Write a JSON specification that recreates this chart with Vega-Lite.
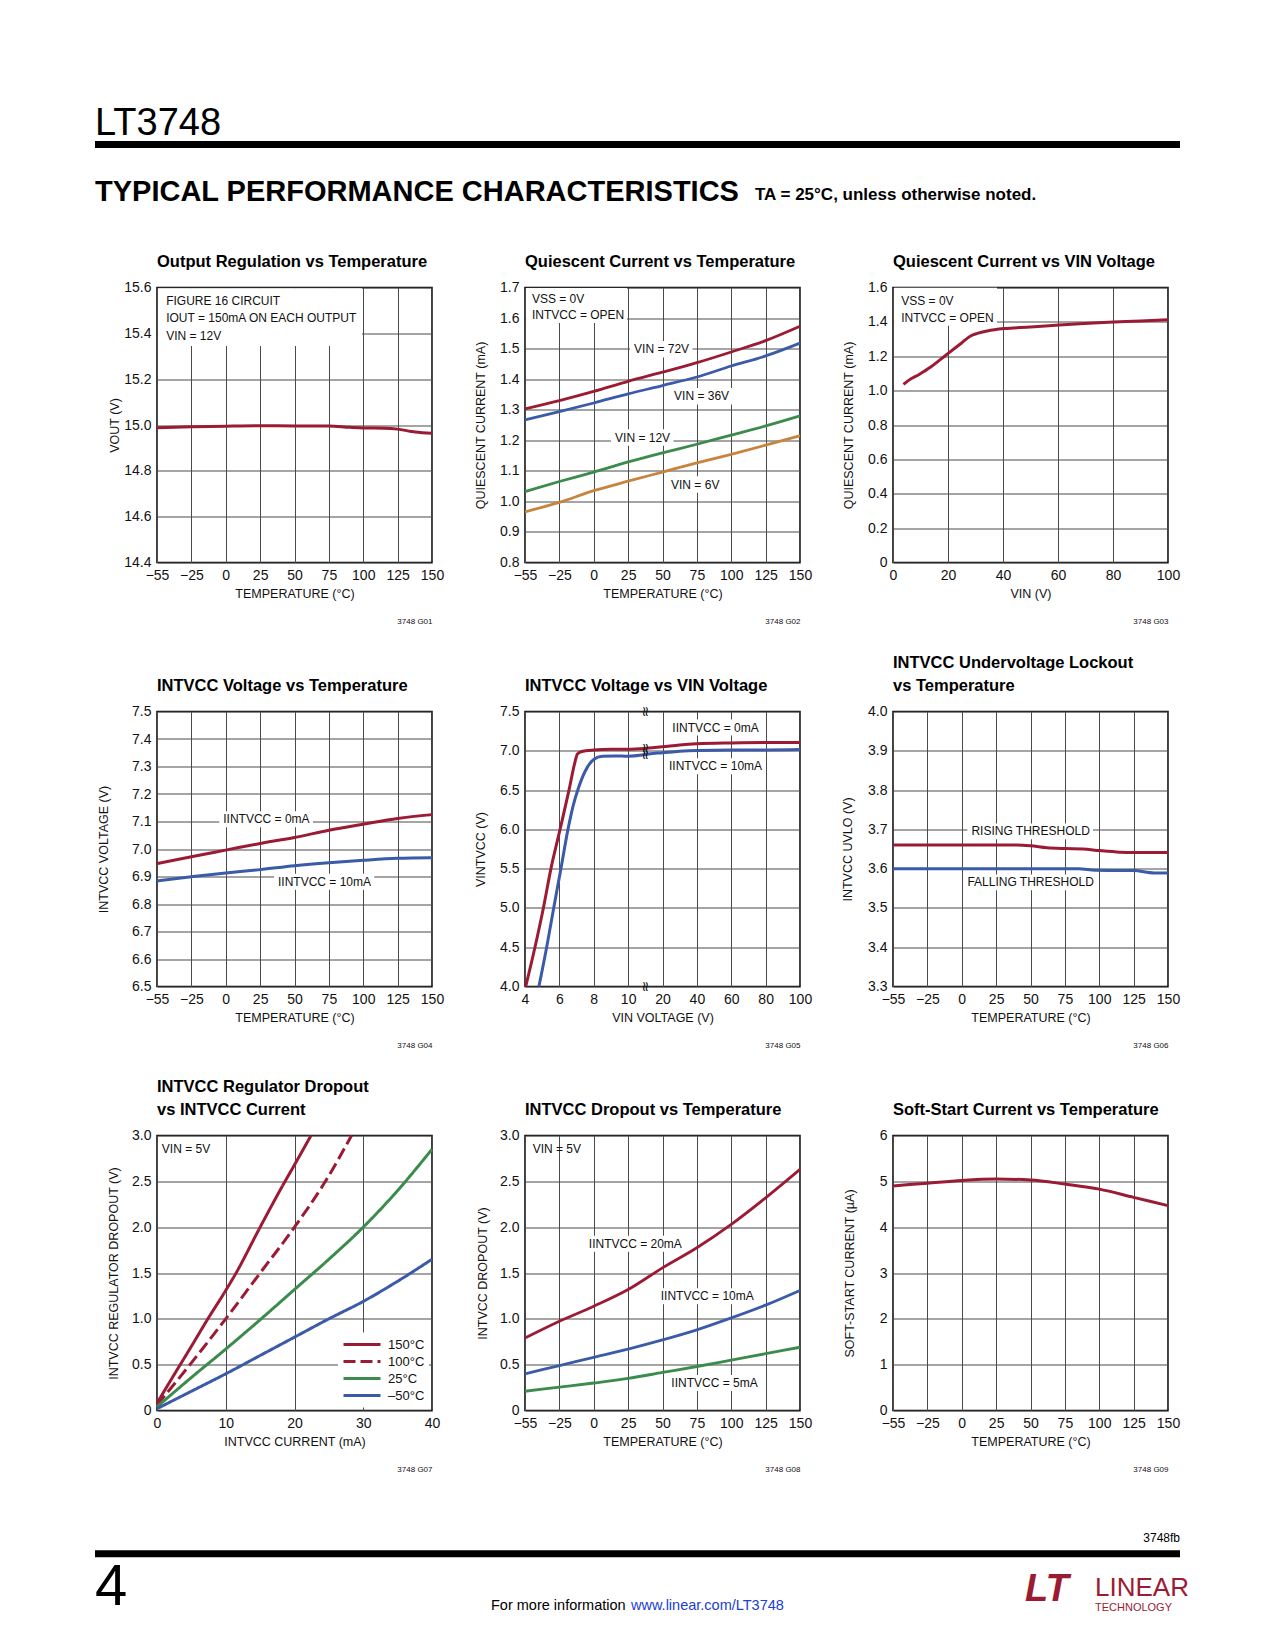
{
"$schema": "https://vega.github.io/schema/vega-lite/v6.json",
"background": "white",
"padding": {"left": 95, "top": 104, "right": 10, "bottom": 10},
"config": {
  "font": "Liberation Sans, Arial, sans-serif",
  "view": {"stroke": "black", "strokeWidth": 1.5},
  "axis": {"domain": false, "ticks": false, "gridColor": "#4a4a4a", "gridWidth": 1, "gridOpacity": 1, "labelFont": "Liberation Sans, Arial, sans-serif", "labelFontSize": 14, "labelColor": "#111", "labelFlush": false, "labelOverlap": false, "labelBound": false, "titleFont": "Liberation Sans, Arial, sans-serif", "titleFontSize": 12.5, "titleFontWeight": "normal", "titleColor": "#111"},
  "axisX": {"labelPadding": 6, "titlePadding": 5},
  "axisY": {"labelPadding": 6},
  "title": {"font": "Liberation Sans, Arial, sans-serif", "fontSize": 16.5, "fontWeight": "bold", "anchor": "start", "frame": "group", "offset": 9.8, "color": "black", "lineHeight": 23.5},
  "text": {"font": "Liberation Sans, Arial, sans-serif", "fontSize": 12, "color": "#111"}
},
"datasets": {
  "d1": [{"t":-55,"v":14.988},{"t":-25,"v":14.992},{"t":0,"v":14.995},{"t":25,"v":14.997},{"t":50,"v":14.996},{"t":75,"v":14.996},{"t":90,"v":14.99},{"t":100,"v":14.987},{"t":115,"v":14.986},{"t":125,"v":14.982},{"t":135,"v":14.972},{"t":143,"v":14.966},{"t":150,"v":14.964}],
  "b1": [{"t":-54,"t2":99,"v":15.597,"v2":15.345}],
  "a1": [{"t":-47,"v":15.543,"label":"FIGURE 16 CIRCUIT"},{"t":-47,"v":15.465,"label":"IOUT = 150mA ON EACH OUTPUT"},{"t":-47,"v":15.39,"label":"VIN = 12V"}],
  "d2": [
    {"s":"72V","t":-55,"v":1.303},{"s":"72V","t":-25,"v":1.330},{"s":"72V","t":0,"v":1.360},{"s":"72V","t":25,"v":1.393},{"s":"72V","t":50,"v":1.423},{"s":"72V","t":75,"v":1.454},{"s":"72V","t":100,"v":1.489},{"s":"72V","t":125,"v":1.526},{"s":"72V","t":150,"v":1.573},
    {"s":"36V","t":-55,"v":1.267},{"s":"36V","t":-25,"v":1.294},{"s":"36V","t":0,"v":1.322},{"s":"36V","t":25,"v":1.352},{"s":"36V","t":50,"v":1.379},{"s":"36V","t":75,"v":1.407},{"s":"36V","t":100,"v":1.443},{"s":"36V","t":125,"v":1.476},{"s":"36V","t":150,"v":1.518},
    {"s":"12V","t":-55,"v":1.032},{"s":"12V","t":-25,"v":1.065},{"s":"12V","t":0,"v":1.096},{"s":"12V","t":25,"v":1.129},{"s":"12V","t":50,"v":1.159},{"s":"12V","t":75,"v":1.187},{"s":"12V","t":100,"v":1.217},{"s":"12V","t":125,"v":1.247},{"s":"12V","t":150,"v":1.280},
    {"s":"6V","t":-55,"v":0.966},{"s":"6V","t":-25,"v":0.997},{"s":"6V","t":0,"v":1.035},{"s":"6V","t":25,"v":1.066},{"s":"6V","t":50,"v":1.096},{"s":"6V","t":75,"v":1.126},{"s":"6V","t":100,"v":1.154},{"s":"6V","t":125,"v":1.184},{"s":"6V","t":150,"v":1.215}
  ],
  "b2": [{"t":-54,"t2":24.2,"v":1.698,"v2":1.584},{"t":26.4,"t2":71.8,"v":1.525,"v2":1.471},{"t":55.5,"t2":100.9,"v":1.371,"v2":1.317},{"t":12.5,"t2":58,"v":1.236,"v2":1.182},{"t":53.3,"t2":91,"v":1.082,"v2":1.028}],
  "a2": [{"t":-49,"v":1.664,"label":"VSS = 0V"},{"t":-49,"v":1.611,"label":"INTVCC = OPEN"},{"t":29.3,"v":1.498,"label":"VIN = 72V"},{"t":58.4,"v":1.344,"label":"VIN = 36V"},{"t":15.5,"v":1.209,"label":"VIN = 12V"},{"t":56.2,"v":1.055,"label":"VIN = 6V"}],
  "d3": [{"t":3.8,"v":1.036},{"t":5.8,"v":1.061},{"t":9.5,"v":1.094},{"t":13.7,"v":1.137},{"t":17.3,"v":1.182},{"t":20.4,"v":1.221},{"t":24.6,"v":1.273},{"t":28.2,"v":1.318},{"t":30.7,"v":1.333},{"t":34.3,"v":1.347},{"t":40.4,"v":1.361},{"t":50,"v":1.370},{"t":60.4,"v":1.382},{"t":69.5,"v":1.391},{"t":80.4,"v":1.399},{"t":90,"v":1.405},{"t":100,"v":1.413}],
  "b3": [{"t":0.4,"t2":37.8,"v":1.598,"v2":1.378}],
  "a3": [{"t":3,"v":1.522,"label":"VSS = 0V"},{"t":3,"v":1.425,"label":"INTVCC = OPEN"}],
  "d4": [
    {"s":"0mA","t":-55,"v":6.947},{"s":"0mA","t":-25,"v":6.972},{"s":"0mA","t":0,"v":6.996},{"s":"0mA","t":25,"v":7.020},{"s":"0mA","t":50,"v":7.042},{"s":"0mA","t":75,"v":7.068},{"s":"0mA","t":100,"v":7.090},{"s":"0mA","t":125,"v":7.111},{"s":"0mA","t":150,"v":7.125},
    {"s":"10mA","t":-55,"v":6.884},{"s":"10mA","t":-25,"v":6.899},{"s":"10mA","t":0,"v":6.913},{"s":"10mA","t":25,"v":6.925},{"s":"10mA","t":50,"v":6.939},{"s":"10mA","t":75,"v":6.950},{"s":"10mA","t":100,"v":6.959},{"s":"10mA","t":125,"v":6.966},{"s":"10mA","t":150,"v":6.968}
  ],
  "b4": [{"t":-4.7,"t2":63.4,"v":7.137,"v2":7.079},{"t":35.1,"t2":108,"v":6.91,"v2":6.852}],
  "a4": [{"t":-1.8,"v":7.108,"label":"IINTVCC = 0mA"},{"t":38,"v":6.881,"label":"IINTVCC = 10mA"}],
  "d5": [
    {"s":"0mA","t":4.04,"v":4.0},{"s":"0mA","t":4.58,"v":4.5},{"s":"0mA","t":5.07,"v":5.0},{"s":"0mA","t":5.51,"v":5.5},{"s":"0mA","t":6.04,"v":6.0},{"s":"0mA","t":6.56,"v":6.5},{"s":"0mA","t":6.9,"v":6.85},{"s":"0mA","t":7.05,"v":6.96},{"s":"0mA","t":7.3,"v":6.99},{"s":"0mA","t":8,"v":7.01},{"s":"0mA","t":9,"v":7.02},{"s":"0mA","t":10,"v":7.02},{"s":"0mA","t":15,"v":7.03},{"s":"0mA","t":20,"v":7.05},{"s":"0mA","t":30,"v":7.075},{"s":"0mA","t":40,"v":7.09},{"s":"0mA","t":60,"v":7.1},{"s":"0mA","t":80,"v":7.105},{"s":"0mA","t":100,"v":7.105},
    {"s":"10mA","t":4.81,"v":4.0},{"s":"10mA","t":5.26,"v":4.5},{"s":"10mA","t":5.67,"v":5.0},{"s":"10mA","t":6.09,"v":5.5},{"s":"10mA","t":6.5,"v":6.0},{"s":"10mA","t":6.8,"v":6.3},{"s":"10mA","t":7.1,"v":6.52},{"s":"10mA","t":7.5,"v":6.74},{"s":"10mA","t":8,"v":6.89},{"s":"10mA","t":8.5,"v":6.93},{"s":"10mA","t":9.2,"v":6.935},{"s":"10mA","t":10,"v":6.93},{"s":"10mA","t":14,"v":6.945},{"s":"10mA","t":16,"v":6.96},{"s":"10mA","t":20,"v":6.975},{"s":"10mA","t":30,"v":6.995},{"s":"10mA","t":40,"v":7.005},{"s":"10mA","t":60,"v":7.01},{"s":"10mA","t":80,"v":7.01},{"s":"10mA","t":100,"v":7.015}
  ],
  "b5": [{"t":23.4,"t2":77.9,"v":7.398,"v2":7.194},{"t":21.5,"t2":79.8,"v":6.905,"v2":6.7}],
  "a5": [{"t":25.7,"v":7.296,"label":"IINTVCC = 0mA"},{"t":23.8,"v":6.803,"label":"IINTVCC = 10mA"}],
  "k5": [{"t":15,"v":7.5},{"t":15,"v":4.0},{"t":15,"v":7.03},{"t":15,"v":6.95}],
  "d6": [
    {"s":"rise","t":-55,"v":3.66},{"s":"rise","t":0,"v":3.66},{"s":"rise","t":25,"v":3.66},{"s":"rise","t":40,"v":3.66},{"s":"rise","t":50,"v":3.658},{"s":"rise","t":62,"v":3.653},{"s":"rise","t":75,"v":3.651},{"s":"rise","t":88,"v":3.65},{"s":"rise","t":100,"v":3.646},{"s":"rise","t":115,"v":3.642},{"s":"rise","t":125,"v":3.641},{"s":"rise","t":150,"v":3.641},
    {"s":"fall","t":-55,"v":3.6},{"s":"fall","t":25,"v":3.6},{"s":"fall","t":75,"v":3.6},{"s":"fall","t":85,"v":3.6},{"s":"fall","t":97,"v":3.596},{"s":"fall","t":125,"v":3.595},{"s":"fall","t":140,"v":3.589},{"s":"fall","t":150,"v":3.589}
  ],
  "b6": [{"t":4.1,"t2":95.5,"v":3.715,"v2":3.675},{"t":1.2,"t2":98.7,"v":3.585,"v2":3.545}],
  "a6": [{"t":7,"v":3.695,"label":"RISING THRESHOLD"},{"t":4.1,"v":3.565,"label":"FALLING THRESHOLD"}],
  "d7": [
    {"s":"150°C","t":0,"v":0.08},{"s":"150°C","t":2,"v":0.33},{"s":"150°C","t":5,"v":0.7},{"s":"150°C","t":7.4,"v":1.0},{"s":"150°C","t":10,"v":1.31},{"s":"150°C","t":11.5,"v":1.5},{"s":"150°C","t":15,"v":2.0},{"s":"150°C","t":18.4,"v":2.47},{"s":"150°C","t":20,"v":2.68},{"s":"150°C","t":22.4,"v":3.0},
    {"s":"100°C","t":0,"v":0.06},{"s":"100°C","t":5,"v":0.52},{"s":"100°C","t":10,"v":1.0},{"s":"100°C","t":15,"v":1.5},{"s":"100°C","t":20,"v":2.0},{"s":"100°C","t":24.5,"v":2.5},{"s":"100°C","t":28.3,"v":3.0},
    {"s":"25°C","t":0,"v":0.04},{"s":"25°C","t":5,"v":0.36},{"s":"25°C","t":10,"v":0.67},{"s":"25°C","t":15,"v":0.99},{"s":"25°C","t":20,"v":1.32},{"s":"25°C","t":25,"v":1.65},{"s":"25°C","t":30,"v":2.0},{"s":"25°C","t":35,"v":2.4},{"s":"25°C","t":40,"v":2.85},
    {"s":"–50°C","t":0,"v":0.02},{"s":"–50°C","t":5,"v":0.21},{"s":"–50°C","t":10,"v":0.4},{"s":"–50°C","t":15,"v":0.6},{"s":"–50°C","t":20,"v":0.8},{"s":"–50°C","t":25,"v":1.0},{"s":"–50°C","t":30,"v":1.19},{"s":"–50°C","t":35,"v":1.41},{"s":"–50°C","t":40,"v":1.65}
  ],
  "a7": [{"t":0.7,"v":2.85,"label":"VIN = 5V"}],
  "d8": [
    {"s":"20mA","t":-55,"v":0.79},{"s":"20mA","t":-25,"v":0.973},{"s":"20mA","t":0,"v":1.137},{"s":"20mA","t":25,"v":1.319},{"s":"20mA","t":50,"v":1.556},{"s":"20mA","t":75,"v":1.775},{"s":"20mA","t":100,"v":2.03},{"s":"20mA","t":125,"v":2.32},{"s":"20mA","t":150,"v":2.63},
    {"s":"10mA","t":-55,"v":0.4},{"s":"10mA","t":-25,"v":0.49},{"s":"10mA","t":0,"v":0.58},{"s":"10mA","t":25,"v":0.67},{"s":"10mA","t":50,"v":0.77},{"s":"10mA","t":75,"v":0.88},{"s":"10mA","t":100,"v":1.01},{"s":"10mA","t":125,"v":1.15},{"s":"10mA","t":150,"v":1.31},
    {"s":"5mA","t":-55,"v":0.21},{"s":"5mA","t":-25,"v":0.255},{"s":"5mA","t":0,"v":0.3},{"s":"5mA","t":25,"v":0.35},{"s":"5mA","t":50,"v":0.415},{"s":"5mA","t":75,"v":0.48},{"s":"5mA","t":100,"v":0.55},{"s":"5mA","t":125,"v":0.62},{"s":"5mA","t":150,"v":0.69}
  ],
  "b8": [{"t":-6.5,"t2":66.4,"v":1.907,"v2":1.733},{"t":45.8,"t2":118.7,"v":1.333,"v2":1.159},{"t":53.5,"t2":121.6,"v":0.387,"v2":0.213}],
  "a8": [{"t":-48.3,"v":2.85,"label":"VIN = 5V"},{"t":-3.6,"v":1.82,"label":"IINTVCC = 20mA"},{"t":48.7,"v":1.246,"label":"IINTVCC = 10mA"},{"t":56.4,"v":0.3,"label":"IINTVCC = 5mA"}],
  "d9": [{"t":-55,"v":4.9},{"t":-25,"v":4.96},{"t":0,"v":5.02},{"t":25,"v":5.05},{"t":50,"v":5.03},{"t":75,"v":4.94},{"t":100,"v":4.83},{"t":125,"v":4.65},{"t":150,"v":4.47}],
  "empty": [{}],
  "none": []
},
"spacing": 33.5,
"vconcat": [
 {
  "spacing": 26.5,
  "vconcat": [
   {"width": 1085, "height": 7, "view": {"fill": "black", "stroke": null}, "data": {"name": "empty"}, "mark": {"type": "text", "text": ""},
    "title": {"text": "LT3748", "anchor": "start", "frame": "group", "fontSize": 38, "fontWeight": "normal", "offset": -4}},
   {"hconcat": [
     {"width": 660, "height": 1, "view": {"stroke": null}, "data": {"name": "empty"}, "mark": {"type": "text", "text": ""},
      "title": {"text": "TYPICAL PERFORMANCE CHARACTERISTICS", "anchor": "start", "frame": "group", "fontSize": 29, "fontWeight": "bold", "offset": 0}},
     {"width": 425, "height": 1, "view": {"stroke": null}, "data": {"name": "empty"}, "mark": {"type": "text", "text": ""},
      "title": {"text": "TA = 25°C, unless otherwise noted.", "anchor": "start", "frame": "group", "fontSize": 17, "fontWeight": "bold", "offset": 3.5}}
    ], "spacing": 0, "bounds": "flush"}
  ]
 },
 {
  "spacing": 56.7,
  "vconcat": [
   {"spacing": 0, "hconcat": [
    {"width": 1, "height": 1, "view": {"stroke": null}, "data": {"name": "none"}, "mark": "point"},
    {
    "columns": 3, "bounds": "flush", "spacing": {"row": 149, "column": 93},
    "resolve": {"scale": {"color": "independent", "strokeDash": "independent"}, "legend": {"color": "independent", "strokeDash": "independent"}},
    "concat": [
     {"width": 275, "height": 275, "title": {"text": "Output Regulation vs Temperature"}, "resolve": {"axis": {"x": "independent"}},
      "layer": [
       {"data": {"name": "b1"}, "mark": {"type": "rect", "fill": "white"}, "encoding": {"x": {"field": "t", "type": "quantitative", "axis": null}, "x2": {"field": "t2"}, "y": {"field": "v", "type": "quantitative"}, "y2": {"field": "v2"}}},
       {"data": {"name": "d1"}, "mark": {"type": "line", "color": "#9B1B35", "strokeWidth": 3, "interpolate": "monotone"},
        "encoding": {"x": {"field": "t", "type": "quantitative", "scale": {"domain": [-55, -25, 150], "range": [0, 34.375, 275], "nice": false, "zero": false}, "axis": {"grid": true, "tickCount": 20, "values": [-55, -25, 0, 25, 50, 75, 100, 125, 150], "format": "d", "title": "TEMPERATURE (°C)"}},
                     "y": {"field": "v", "type": "quantitative", "scale": {"domain": [14.4, 15.6], "nice": false, "zero": false}, "axis": {"grid": true, "tickCount": 20, "values": [14.4, 14.6, 14.8, 15.0, 15.2, 15.4, 15.6], "format": ".1f", "title": "VOUT (V)", "titlePadding": 2.5}}}},
       {"data": {"name": "a1"}, "mark": {"type": "text", "align": "left", "baseline": "middle"}, "encoding": {"x": {"field": "t", "type": "quantitative", "axis": null}, "y": {"field": "v", "type": "quantitative"}, "text": {"field": "label"}}},
       {"data": {"name": "d1"}, "mark": {"type": "point", "opacity": 0}, "encoding": {"x": {"field": "t", "type": "quantitative", "axis": {"orient": "bottom", "title": "3748 G01", "labels": false, "grid": false, "titleAnchor": "end", "titleFontSize": 8, "titlePadding": 55}}}}
      ]},
     {"width": 275, "height": 275, "title": {"text": "Quiescent Current vs Temperature"}, "resolve": {"axis": {"x": "independent"}},
      "layer": [
       {"data": {"name": "b2"}, "mark": {"type": "rect", "fill": "white"}, "encoding": {"x": {"field": "t", "type": "quantitative", "axis": null}, "x2": {"field": "t2"}, "y": {"field": "v", "type": "quantitative"}, "y2": {"field": "v2"}}},
       {"data": {"name": "d2"}, "mark": {"type": "line", "strokeWidth": 2.8, "interpolate": "monotone"},
        "encoding": {"x": {"field": "t", "type": "quantitative", "scale": {"domain": [-55, -25, 150], "range": [0, 34.375, 275], "nice": false, "zero": false}, "axis": {"grid": true, "tickCount": 20, "values": [-55, -25, 0, 25, 50, 75, 100, 125, 150], "format": "d", "title": "TEMPERATURE (°C)"}},
                     "y": {"field": "v", "type": "quantitative", "scale": {"domain": [0.8, 1.7], "nice": false, "zero": false}, "axis": {"grid": true, "tickCount": 20, "values": [0.8, 0.9, 1.0, 1.1, 1.2, 1.3, 1.4, 1.5, 1.6, 1.7], "format": ".1f", "title": "QUIESCENT CURRENT (mA)", "titlePadding": 12.25}},
                     "color": {"field": "s", "type": "nominal", "scale": {"domain": ["72V", "36V", "12V", "6V"], "range": ["#9B1B35", "#3B5BA9", "#3B8B4D", "#C8843E"]}, "legend": null}}},
       {"data": {"name": "a2"}, "mark": {"type": "text", "align": "left", "baseline": "middle"}, "encoding": {"x": {"field": "t", "type": "quantitative", "axis": null}, "y": {"field": "v", "type": "quantitative"}, "text": {"field": "label"}}},
       {"data": {"name": "d2"}, "mark": {"type": "point", "opacity": 0}, "encoding": {"x": {"field": "t", "type": "quantitative", "axis": {"orient": "bottom", "title": "3748 G02", "labels": false, "grid": false, "titleAnchor": "end", "titleFontSize": 8, "titlePadding": 55}}}}
      ]},
     {"width": 275, "height": 275, "title": {"text": "Quiescent Current vs VIN Voltage"}, "resolve": {"axis": {"x": "independent"}},
      "layer": [
       {"data": {"name": "b3"}, "mark": {"type": "rect", "fill": "white"}, "encoding": {"x": {"field": "t", "type": "quantitative", "axis": null}, "x2": {"field": "t2"}, "y": {"field": "v", "type": "quantitative"}, "y2": {"field": "v2"}}},
       {"data": {"name": "d3"}, "mark": {"type": "line", "color": "#9B1B35", "strokeWidth": 3, "interpolate": "monotone"},
        "encoding": {"x": {"field": "t", "type": "quantitative", "scale": {"domain": [0, 100], "nice": false, "zero": false}, "axis": {"grid": true, "tickCount": 20, "values": [0, 20, 40, 60, 80, 100], "format": "d", "title": "VIN (V)"}},
                     "y": {"field": "v", "type": "quantitative", "scale": {"domain": [0, 1.6], "nice": false}, "axis": {"grid": true, "tickCount": 20, "values": [0, 0.2, 0.4, 0.6, 0.8, 1.0, 1.2, 1.4, 1.6], "labelExpr": "datum.value == 0 ? '0' : format(datum.value, '.1f')", "title": "QUIESCENT CURRENT (mA)", "titlePadding": 12.25}}}},
       {"data": {"name": "a3"}, "mark": {"type": "text", "align": "left", "baseline": "middle"}, "encoding": {"x": {"field": "t", "type": "quantitative", "axis": null}, "y": {"field": "v", "type": "quantitative"}, "text": {"field": "label"}}},
       {"data": {"name": "d3"}, "mark": {"type": "point", "opacity": 0}, "encoding": {"x": {"field": "t", "type": "quantitative", "axis": {"orient": "bottom", "title": "3748 G03", "labels": false, "grid": false, "titleAnchor": "end", "titleFontSize": 8, "titlePadding": 55}}}}
      ]},
     {"width": 275, "height": 275, "title": {"text": "INTVCC Voltage vs Temperature"}, "resolve": {"axis": {"x": "independent"}},
      "layer": [
       {"data": {"name": "b4"}, "mark": {"type": "rect", "fill": "white"}, "encoding": {"x": {"field": "t", "type": "quantitative", "axis": null}, "x2": {"field": "t2"}, "y": {"field": "v", "type": "quantitative"}, "y2": {"field": "v2"}}},
       {"data": {"name": "d4"}, "mark": {"type": "line", "strokeWidth": 3, "interpolate": "monotone"},
        "encoding": {"x": {"field": "t", "type": "quantitative", "scale": {"domain": [-55, -25, 150], "range": [0, 34.375, 275], "nice": false, "zero": false}, "axis": {"grid": true, "tickCount": 20, "values": [-55, -25, 0, 25, 50, 75, 100, 125, 150], "format": "d", "title": "TEMPERATURE (°C)"}},
                     "y": {"field": "v", "type": "quantitative", "scale": {"domain": [6.5, 7.5], "nice": false, "zero": false}, "axis": {"grid": true, "tickCount": 20, "values": [6.5, 6.6, 6.7, 6.8, 6.9, 7.0, 7.1, 7.2, 7.3, 7.4, 7.5], "format": ".1f", "title": "INTVCC VOLTAGE (V)", "titlePadding": 21}},
                     "color": {"field": "s", "type": "nominal", "scale": {"domain": ["0mA", "10mA"], "range": ["#9B1B35", "#3B5BA9"]}, "legend": null}}},
       {"data": {"name": "a4"}, "mark": {"type": "text", "align": "left", "baseline": "middle"}, "encoding": {"x": {"field": "t", "type": "quantitative", "axis": null}, "y": {"field": "v", "type": "quantitative"}, "text": {"field": "label"}}},
       {"data": {"name": "d4"}, "mark": {"type": "point", "opacity": 0}, "encoding": {"x": {"field": "t", "type": "quantitative", "axis": {"orient": "bottom", "title": "3748 G04", "labels": false, "grid": false, "titleAnchor": "end", "titleFontSize": 8, "titlePadding": 55}}}}
      ]},
     {"width": 275, "height": 275, "title": {"text": "INTVCC Voltage vs VIN Voltage"}, "resolve": {"axis": {"x": "independent"}},
      "layer": [
       {"data": {"name": "b5"}, "mark": {"type": "rect", "fill": "white"}, "encoding": {"x": {"field": "t", "type": "quantitative", "axis": null}, "x2": {"field": "t2"}, "y": {"field": "v", "type": "quantitative"}, "y2": {"field": "v2"}}},
       {"data": {"name": "d5"}, "mark": {"type": "line", "strokeWidth": 3, "interpolate": "monotone"},
        "encoding": {"x": {"field": "t", "type": "quantitative", "scale": {"domain": [4, 10, 20, 100], "range": [0, 103.125, 137.5, 275], "nice": false, "zero": false}, "axis": {"grid": true, "tickCount": 20, "values": [4, 6, 8, 10, 20, 40, 60, 80, 100], "format": "d", "title": "VIN VOLTAGE (V)"}},
                     "y": {"field": "v", "type": "quantitative", "scale": {"domain": [4, 7.5], "nice": false, "zero": false}, "axis": {"grid": true, "tickCount": 20, "values": [4.0, 4.5, 5.0, 5.5, 6.0, 6.5, 7.0, 7.5], "format": ".1f", "title": "VINTVCC (V)", "titlePadding": 12.25}},
                     "color": {"field": "s", "type": "nominal", "scale": {"domain": ["0mA", "10mA"], "range": ["#9B1B35", "#3B5BA9"]}, "legend": null}}},
       {"data": {"name": "a5"}, "mark": {"type": "text", "align": "left", "baseline": "middle"}, "encoding": {"x": {"field": "t", "type": "quantitative", "axis": null}, "y": {"field": "v", "type": "quantitative"}, "text": {"field": "label"}}},
       {"data": {"name": "k5"}, "mark": {"type": "text", "text": "≈", "angle": 90, "align": "center", "baseline": "middle", "fontSize": 14, "font": "DejaVu Sans"}, "encoding": {"x": {"field": "t", "type": "quantitative", "axis": null}, "y": {"field": "v", "type": "quantitative"}}},
       {"data": {"name": "d5"}, "mark": {"type": "point", "opacity": 0}, "encoding": {"x": {"field": "t", "type": "quantitative", "axis": {"orient": "bottom", "title": "3748 G05", "labels": false, "grid": false, "titleAnchor": "end", "titleFontSize": 8, "titlePadding": 55}}}}
      ]},
     {"width": 275, "height": 275, "title": {"text": ["INTVCC Undervoltage Lockout", "vs Temperature"]}, "resolve": {"axis": {"x": "independent"}},
      "layer": [
       {"data": {"name": "b6"}, "mark": {"type": "rect", "fill": "white"}, "encoding": {"x": {"field": "t", "type": "quantitative", "axis": null}, "x2": {"field": "t2"}, "y": {"field": "v", "type": "quantitative"}, "y2": {"field": "v2"}}},
       {"data": {"name": "d6"}, "mark": {"type": "line", "strokeWidth": 3, "interpolate": "monotone"},
        "encoding": {"x": {"field": "t", "type": "quantitative", "scale": {"domain": [-55, -25, 150], "range": [0, 34.375, 275], "nice": false, "zero": false}, "axis": {"grid": true, "tickCount": 20, "values": [-55, -25, 0, 25, 50, 75, 100, 125, 150], "format": "d", "title": "TEMPERATURE (°C)"}},
                     "y": {"field": "v", "type": "quantitative", "scale": {"domain": [3.3, 4.0], "nice": false, "zero": false}, "axis": {"grid": true, "tickCount": 20, "values": [3.3, 3.4, 3.5, 3.6, 3.7, 3.8, 3.9, 4.0], "format": ".1f", "title": "INTVCC UVLO (V)", "titlePadding": 13.25}},
                     "color": {"field": "s", "type": "nominal", "scale": {"domain": ["rise", "fall"], "range": ["#9B1B35", "#3B5BA9"]}, "legend": null}}},
       {"data": {"name": "a6"}, "mark": {"type": "text", "align": "left", "baseline": "middle"}, "encoding": {"x": {"field": "t", "type": "quantitative", "axis": null}, "y": {"field": "v", "type": "quantitative"}, "text": {"field": "label"}}},
       {"data": {"name": "d6"}, "mark": {"type": "point", "opacity": 0}, "encoding": {"x": {"field": "t", "type": "quantitative", "axis": {"orient": "bottom", "title": "3748 G06", "labels": false, "grid": false, "titleAnchor": "end", "titleFontSize": 8, "titlePadding": 55}}}}
      ]},
     {"width": 275, "height": 275, "title": {"text": ["INTVCC Regulator Dropout", "vs INTVCC Current"]}, "resolve": {"axis": {"x": "independent"}},
      "layer": [
       {"data": {"name": "d7"}, "mark": {"type": "line", "strokeWidth": 3, "interpolate": "monotone"},
        "encoding": {"x": {"field": "t", "type": "quantitative", "scale": {"domain": [0, 40], "nice": false, "zero": false}, "axis": {"grid": true, "tickCount": 20, "values": [0, 10, 20, 30, 40], "format": "d", "title": "INTVCC CURRENT (mA)"}},
                     "y": {"field": "v", "type": "quantitative", "scale": {"domain": [0, 3], "nice": false}, "axis": {"grid": true, "tickCount": 20, "values": [0, 0.5, 1.0, 1.5, 2.0, 2.5, 3.0], "labelExpr": "datum.value == 0 ? '0' : format(datum.value, '.1f')", "title": "INTVCC REGULATOR DROPOUT (V)", "titlePadding": 10.75}},
                     "color": {"field": "s", "type": "nominal", "scale": {"domain": ["150°C", "100°C", "25°C", "–50°C"], "range": ["#9B1B35", "#9B1B35", "#3B8B4D", "#3B5BA9"]},
                               "legend": {"orient": "bottom-right", "title": null, "symbolType": "stroke", "symbolSize": 1369, "symbolStrokeWidth": 3, "clipHeight": 16, "labelFontSize": 13, "labelFont": "Liberation Sans, Arial, sans-serif", "labelColor": "#111", "fillColor": "white", "padding": 4, "offset": 3, "labelOffset": 6, "rowPadding": 1}},
                     "strokeDash": {"field": "s", "type": "nominal", "scale": {"domain": ["150°C", "100°C", "25°C", "–50°C"], "range": [[1, 0], [12, 5], [1, 0], [1, 0]]},
                               "legend": {"orient": "bottom-right", "title": null, "symbolType": "stroke", "symbolSize": 1369, "symbolStrokeWidth": 3, "clipHeight": 16, "labelFontSize": 13, "labelFont": "Liberation Sans, Arial, sans-serif", "labelColor": "#111", "fillColor": "white", "padding": 4, "offset": 3, "labelOffset": 6, "rowPadding": 1}}}},
       {"data": {"name": "a7"}, "mark": {"type": "text", "align": "left", "baseline": "middle"}, "encoding": {"x": {"field": "t", "type": "quantitative", "axis": null}, "y": {"field": "v", "type": "quantitative"}, "text": {"field": "label"}}},
       {"data": {"name": "d7"}, "mark": {"type": "point", "opacity": 0}, "encoding": {"x": {"field": "t", "type": "quantitative", "axis": {"orient": "bottom", "title": "3748 G07", "labels": false, "grid": false, "titleAnchor": "end", "titleFontSize": 8, "titlePadding": 55}}}}
      ]},
     {"width": 275, "height": 275, "title": {"text": "INTVCC Dropout vs Temperature"}, "resolve": {"axis": {"x": "independent"}},
      "layer": [
       {"data": {"name": "b8"}, "mark": {"type": "rect", "fill": "white"}, "encoding": {"x": {"field": "t", "type": "quantitative", "axis": null}, "x2": {"field": "t2"}, "y": {"field": "v", "type": "quantitative"}, "y2": {"field": "v2"}}},
       {"data": {"name": "d8"}, "mark": {"type": "line", "strokeWidth": 2.8, "interpolate": "monotone"},
        "encoding": {"x": {"field": "t", "type": "quantitative", "scale": {"domain": [-55, -25, 150], "range": [0, 34.375, 275], "nice": false, "zero": false}, "axis": {"grid": true, "tickCount": 20, "values": [-55, -25, 0, 25, 50, 75, 100, 125, 150], "format": "d", "title": "TEMPERATURE (°C)"}},
                     "y": {"field": "v", "type": "quantitative", "scale": {"domain": [0, 3], "nice": false}, "axis": {"grid": true, "tickCount": 20, "values": [0, 0.5, 1.0, 1.5, 2.0, 2.5, 3.0], "labelExpr": "datum.value == 0 ? '0' : format(datum.value, '.1f')", "title": "INTVCC DROPOUT (V)", "titlePadding": 10.25}},
                     "color": {"field": "s", "type": "nominal", "scale": {"domain": ["20mA", "10mA", "5mA"], "range": ["#9B1B35", "#3B5BA9", "#3B8B4D"]}, "legend": null}}},
       {"data": {"name": "a8"}, "mark": {"type": "text", "align": "left", "baseline": "middle"}, "encoding": {"x": {"field": "t", "type": "quantitative", "axis": null}, "y": {"field": "v", "type": "quantitative"}, "text": {"field": "label"}}},
       {"data": {"name": "d8"}, "mark": {"type": "point", "opacity": 0}, "encoding": {"x": {"field": "t", "type": "quantitative", "axis": {"orient": "bottom", "title": "3748 G08", "labels": false, "grid": false, "titleAnchor": "end", "titleFontSize": 8, "titlePadding": 55}}}}
      ]},
     {"width": 275, "height": 275, "title": {"text": "Soft-Start Current vs Temperature"}, "resolve": {"axis": {"x": "independent"}},
      "layer": [
       {"data": {"name": "d9"}, "mark": {"type": "line", "color": "#9B1B35", "strokeWidth": 3, "interpolate": "monotone"},
        "encoding": {"x": {"field": "t", "type": "quantitative", "scale": {"domain": [-55, -25, 150], "range": [0, 34.375, 275], "nice": false, "zero": false}, "axis": {"grid": true, "tickCount": 20, "values": [-55, -25, 0, 25, 50, 75, 100, 125, 150], "format": "d", "title": "TEMPERATURE (°C)"}},
                     "y": {"field": "v", "type": "quantitative", "scale": {"domain": [0, 6], "nice": false}, "axis": {"grid": true, "tickCount": 20, "values": [0, 1, 2, 3, 4, 5, 6], "format": "d", "title": "SOFT-START CURRENT (µA)", "titlePadding": 22.5}}}},
       {"data": {"name": "d9"}, "mark": {"type": "point", "opacity": 0}, "encoding": {"x": {"field": "t", "type": "quantitative", "axis": {"orient": "bottom", "title": "3748 G09", "labels": false, "grid": false, "titleAnchor": "end", "titleFontSize": 8, "titlePadding": 55}}}}
      ]}
    ]
   }]},
   {
    "spacing": 1.0,
    "vconcat": [
     {"width": 1085, "height": 7, "view": {"fill": "black", "stroke": null}, "data": {"name": "none"}, "mark": "point",
      "title": {"text": "3748fb", "anchor": "end", "frame": "group", "fontSize": 12, "fontWeight": "normal", "offset": 5.5}},
     {"hconcat": [
       {"width": 396, "height": 1, "view": {"stroke": null}, "data": {"name": "empty"}, "mark": {"type": "text", "text": ""},
        "title": {"text": "4", "anchor": "start", "frame": "group", "fontSize": 58, "fontWeight": "normal", "offset": 0}},
       {"width": 140, "height": 1, "view": {"stroke": null}, "data": {"name": "empty"}, "mark": {"type": "text", "text": ""},
        "title": {"text": "For more information", "anchor": "start", "frame": "group", "fontSize": 14.5, "fontWeight": "normal", "offset": 3.15}},
       {"width": 394, "height": 1, "view": {"stroke": null}, "data": {"name": "empty"}, "mark": {"type": "text", "text": ""},
        "title": {"text": "www.linear.com/LT3748", "anchor": "start", "frame": "group", "fontSize": 14.5, "fontWeight": "normal", "offset": 3.15, "color": "#2040D0"}},
       {"width": 70, "height": 1, "view": {"stroke": null}, "data": {"name": "empty"}, "mark": {"type": "text", "text": ""},
        "title": {"text": "LT", "anchor": "start", "frame": "group", "fontStyle": "italic", "fontSize": 38, "fontWeight": "bold", "offset": 8.2, "color": "#9A1C33"}},
       {"width": 85, "height": 1, "view": {"stroke": null}, "data": {"name": "empty"}, "mark": {"type": "text", "text": ""},
        "title": {"text": "LINEAR", "subtitle": "TECHNOLOGY", "anchor": "start", "frame": "group", "fontSize": 26, "fontWeight": "normal", "offset": 3.9, "color": "#9A1C33", "subtitleFontSize": 11, "subtitleColor": "#9A1C33", "subtitlePadding": 1, "subtitleFont": "Liberation Sans, Arial, sans-serif"}}
      ], "spacing": 0, "bounds": "flush"}
    ]
   }
  ]
 }
]
}
